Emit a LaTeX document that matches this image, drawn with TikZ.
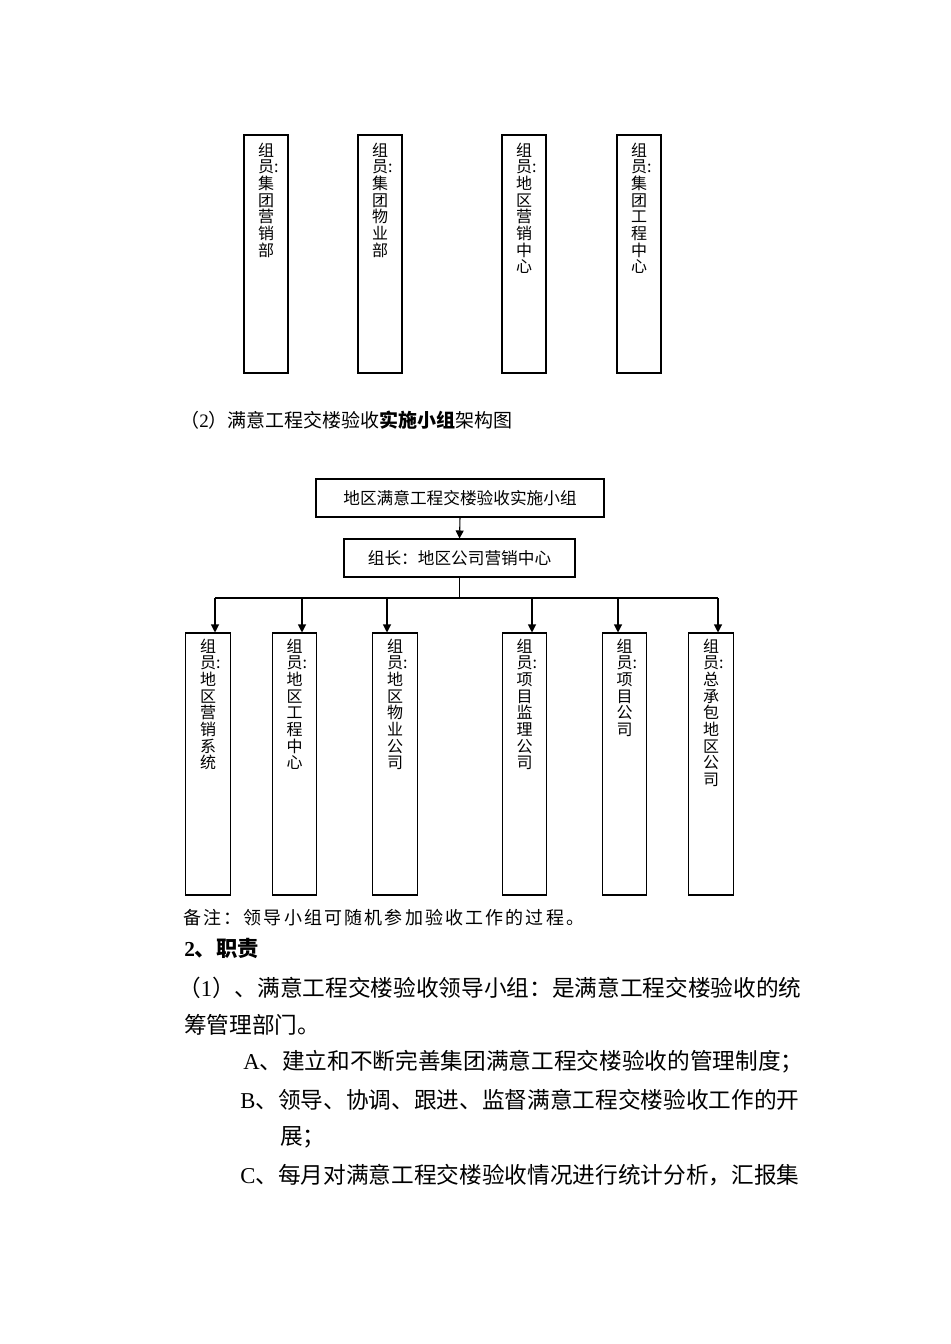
\documentclass[tikz,border=0pt]{standalone}
\usepackage{fontspec}
\usepackage{tikz}
\usetikzlibrary{arrows.meta,positioning}
\setmainfont{Noto Sans CJK SC}
\newfontfamily\romfont{Liberation Serif}
\newcommand\rom[1]{{\romfont #1}}

\begin{document}
\begin{tikzpicture}[x=0.75pt, y=-0.75pt,
    >={Triangle[length=6pt,width=6pt]},
    vbox/.style={draw, line width=0.8pt, minimum width=33pt, inner sep=0pt},
    hbox/.style={draw, line width=0.8pt, inner sep=0pt, font=\fontsize{12.5}{14}\selectfont},
    vtxt/.style={align=center, inner sep=0pt, anchor=north, font=\fontsize{12}{12.5}\selectfont},
    link/.style={->, line width=0.8pt},
    bus/.style={line width=0.8pt},
    para/.style={anchor=west, inner sep=0pt, font=\fontsize{17}{20}\selectfont}]
    \useasboundingbox (0,0) rectangle (950,1344);

    % Members of the leading group (lower part of first chart)
    \node[vbox, minimum height=178.5pt] (s1) at (266,254) {};
    \node[vtxt] (s1t) at ([yshift=-6pt]s1.north) {组\\员\rlap{:}\\集\\团\\营\\销\\部};
    \node[vbox, minimum height=178.5pt] (s2) at (380,254) {};
    \node[vtxt] (s2t) at ([yshift=-6pt]s2.north) {组\\员\rlap{:}\\集\\团\\物\\业\\部};
    \node[vbox, minimum height=178.5pt] (s3) at (524,254) {};
    \node[vtxt] (s3t) at ([yshift=-6pt]s3.north) {组\\员\rlap{:}\\地\\区\\营\\销\\中\\心};
    \node[vbox, minimum height=178.5pt] (s4) at (639,254) {};
    \node[vtxt] (s4t) at ([yshift=-6pt]s4.north) {组\\员\rlap{:}\\集\\团\\工\\程\\中\\心};

    % Caption
    \node[anchor=west, inner sep=0pt, font=\fontsize{14.25}{16}\selectfont] (cap) at (180,420)
        {（\rom{2}）满意工程交楼验收\textbf{实施小组}架构图};

    % Head boxes
    \node[hbox, minimum width=216pt, minimum height=28.5pt] (team) at (460,498) {地区满意工程交楼验收实施小组};
    \node[hbox, minimum width=173.25pt, minimum height=28.5pt] (lead) at (459.5,558) {组长：地区公司营销中心};
    \draw[link] (team.south) -- (lead.north);

    % Member boxes
    \node[vbox, minimum width=33.4pt, minimum height=196.5pt] (m1) at (208,764) {};
    \node[vtxt] (m1t) at ([yshift=-4.5pt]m1.north) {组\\员\rlap{:}\\地\\区\\营\\销\\系\\统};
    \node[vbox, minimum width=33.4pt, minimum height=196.5pt] (m2) at (294.5,764) {};
    \node[vtxt] (m2t) at ([yshift=-4.5pt]m2.north) {组\\员\rlap{:}\\地\\区\\工\\程\\中\\心};
    \node[vbox, minimum width=33.4pt, minimum height=196.5pt] (m3) at (395,764) {};
    \node[vtxt] (m3t) at ([yshift=-4.5pt]m3.north) {组\\员\rlap{:}\\地\\区\\物\\业\\公\\司};
    \node[vbox, minimum width=33.4pt, minimum height=196.5pt] (m4) at (524.5,764) {};
    \node[vtxt] (m4t) at ([yshift=-4.5pt]m4.north) {组\\员\rlap{:}\\项\\目\\监\\理\\公\\司};
    \node[vbox, minimum width=33.4pt, minimum height=196.5pt] (m5) at (624.5,764) {};
    \node[vtxt] (m5t) at ([yshift=-4.5pt]m5.north) {组\\员\rlap{:}\\项\\目\\公\\司};
    \node[vbox, minimum width=33.4pt, minimum height=196.5pt] (m6) at (711,764) {};
    \node[vtxt] (m6t) at ([yshift=-4.5pt]m6.north) {组\\员\rlap{:}\\总\\承\\包\\地\\区\\公\\司};

    % Bus line and drops
    \coordinate (busL) at (215,598);
    \coordinate (busR) at (718,598);
    \draw[bus] (busL) -- (busR);
    \draw[bus] (lead.south) -- (lead.south |- busL);
    \foreach \i/\x in {1/215, 2/302, 3/387, 4/532, 5/618, 6/718} {
        \coordinate (d\i) at (\x,598);
        \draw[link] (d\i) -- (d\i |- m\i.north);
    }

    % Note
    \node[anchor=west, inner sep=0pt, font=\fontsize{13.5}{15}\selectfont\addfontfeature{LetterSpace=12}] (note) at (183,918)
        {备注：领导小组可随机参加验收工作的过程。};

    % Duties
    \node[anchor=west, inner sep=0pt, font=\fontsize{16}{18}\selectfont\bfseries] (duty) at (184,948) {\rom{2}、职责};
    \node[para] (p1) at (178,988) {（\rom{1}）、满意工程交楼验收领导小组：是满意工程交楼验收的统};
    \node[para] (p2) at (184,1025) {筹管理部门。};
    \node[para] (pA) at (243,1062) {\rom{A}、建立和不断完善集团满意工程交楼验收的管理制度；};
    \node[para] (pB) at (240,1100) {\rom{B}、领导、协调、跟进、监督满意工程交楼验收工作的开};
    \node[para] (pB2) at (280,1137) {展；};
    \node[para] (pC) at (240,1175) {\rom{C}、每月对满意工程交楼验收情况进行统计分析，汇报集};

\end{tikzpicture}
\end{document}
